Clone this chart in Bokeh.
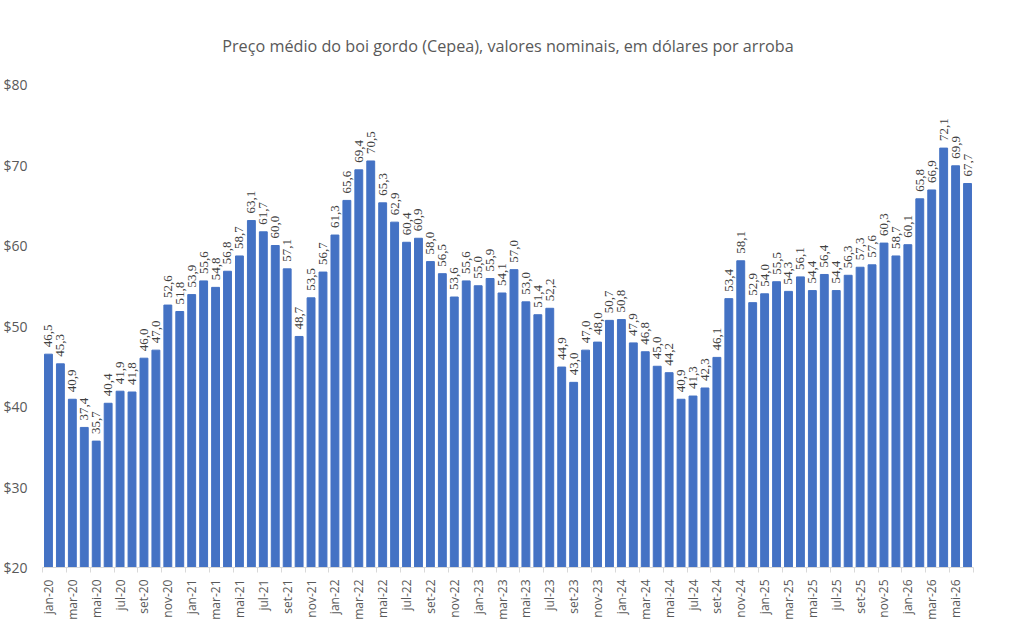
import math
from bokeh.plotting import figure
from bokeh.models import Range1d, FixedTicker, NumeralTickFormatter, ColumnDataSource, LabelSet
from bokeh.embed import file_html
from bokeh.resources import INLINE

months = ["jan", "fev", "mar", "abr", "mai", "jun", "jul", "ago", "set", "out", "nov", "dez"]
years = ["20", "21", "22", "23", "24", "25", "26"]
periods = [f"{m}-{y}" for y in years for m in months][:78]

prices = [
    46.5, 45.3, 40.9, 37.4, 35.7, 40.4, 41.9, 41.8, 46.0, 47.0, 52.6, 51.8,
    53.9, 55.6, 54.8, 56.8, 58.7, 63.1, 61.7, 60.0, 57.1, 48.7, 53.5, 56.7,
    61.3, 65.6, 69.4, 70.5, 65.3, 62.9, 60.4, 60.9, 58.0, 56.5, 53.6, 55.6,
    55.0, 55.9, 54.1, 57.0, 53.0, 51.4, 52.2, 44.9, 43.0, 47.0, 48.0, 50.7,
    50.8, 47.9, 46.8, 45.0, 44.2, 40.9, 41.3, 42.3, 46.1, 53.4, 58.1, 52.9,
    54.0, 55.5, 54.3, 56.1, 54.4, 56.4, 54.4, 56.3, 57.3, 57.6, 60.3, 58.7,
    60.1, 65.8, 66.9, 72.1, 69.9, 67.7,
]
y_ticks = [20, 30, 40, 50, 60, 70, 80]

TITLE = "Preço médio do boi gordo (Cepea), valores nominais, em dólares por arroba"
FONT = "Open Sans"
GREY = "#595959"

idx = list(range(len(prices)))
src = ColumnDataSource(dict(
    x=idx,
    top=prices,
    txt=[f"{v:.1f}".replace(".", ",") for v in prices],
))

p = figure(width=1011, height=630, output_backend="svg", toolbar_location=None,
           x_range=Range1d(-0.5, len(prices) - 0.5), y_range=Range1d(20, 80),
           min_border_left=40, min_border_right=38, min_border_top=84, min_border_bottom=63)

p.title.text = TITLE
p.title.align = "center"
p.title.text_font = FONT
p.title.text_font_size = "16.2px"
p.title.text_font_style = "normal"
p.title.text_color = GREY
p.title.standoff = 55

p.vbar(x="x", top="top", bottom=20, width=0.66, color="#4472C4", source=src)

labels = LabelSet(x="x", y="top", text="txt", source=src, angle=math.pi / 2,
                  text_align="left", text_baseline="middle", x_offset=0, y_offset=7,
                  text_font_size="13px", text_color="#404040", text_font=FONT)
p.add_layout(labels)

p.xgrid.grid_line_color = None
p.ygrid.grid_line_color = None
p.outline_line_color = None

# y axis
p.yaxis.ticker = FixedTicker(ticks=y_ticks)
p.yaxis.formatter = NumeralTickFormatter(format="$0")
p.yaxis.axis_line_color = None
p.yaxis.major_tick_line_color = None
p.yaxis.minor_tick_line_color = None
p.yaxis.major_label_text_font = FONT
p.yaxis.major_label_text_font_size = "14px"
p.yaxis.major_label_text_color = GREY
p.yaxis.major_label_standoff = 9

# x axis
p.xaxis.ticker = FixedTicker(ticks=list(range(0, len(prices), 2)),
                             minor_ticks=[i - 0.5 for i in range(0, len(prices) + 1, 2)])
p.xaxis.major_label_overrides = {i: periods[i] for i in range(0, len(prices), 2)}
p.xaxis.major_label_orientation = math.pi / 2
p.xaxis.axis_line_color = "#d9d9d9"
p.xaxis.major_tick_line_color = None
p.xaxis.minor_tick_line_color = "#d9d9d9"
p.xaxis.minor_tick_out = 5
p.xaxis.minor_tick_in = 0
p.xaxis.major_label_text_font = FONT
p.xaxis.major_label_text_font_size = "12px"
p.xaxis.major_label_text_color = GREY
p.xaxis.major_label_standoff = 6

open("out.html", "w").write(file_html(p, INLINE))
